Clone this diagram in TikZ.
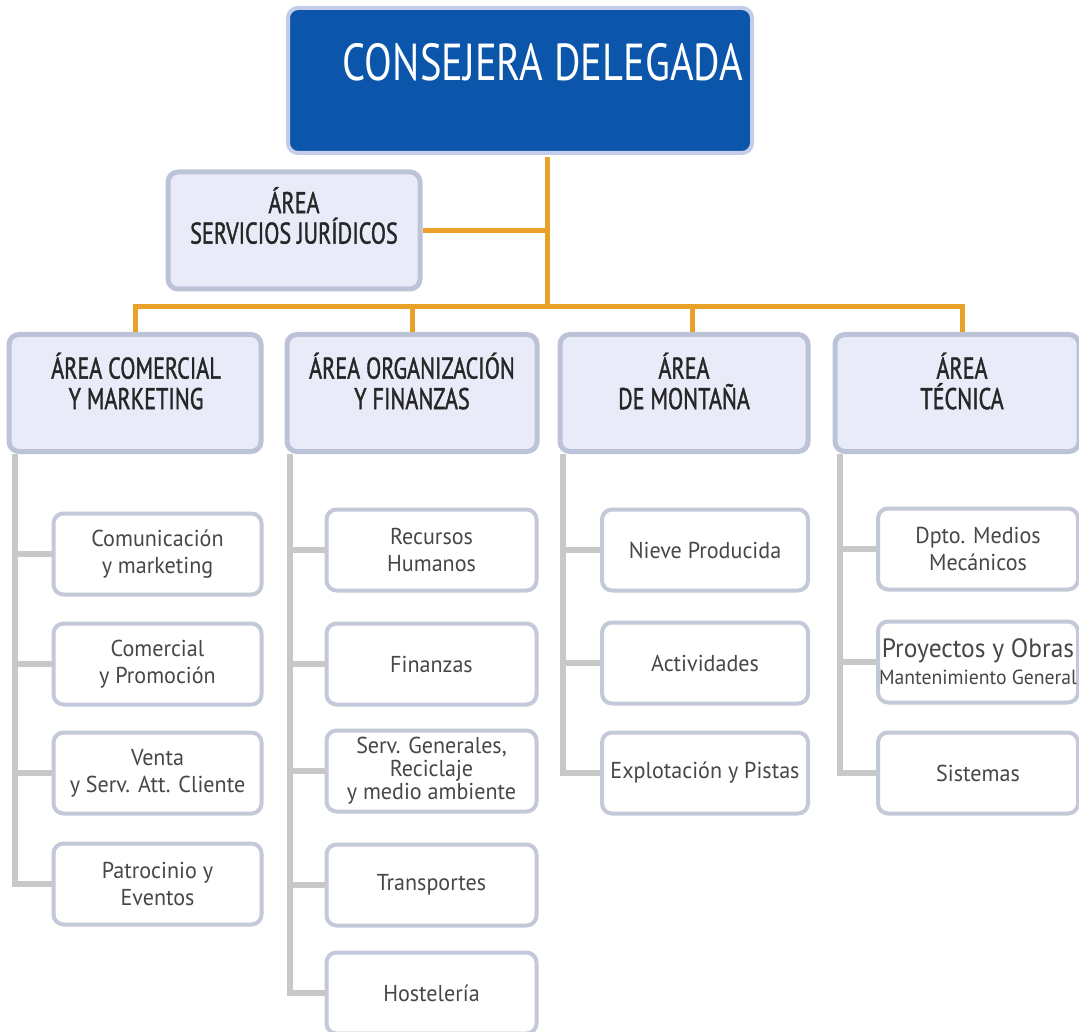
\documentclass[tikz,border=0pt]{standalone}
\usepackage{fontspec}
\setmainfont{PT Sans}
\newfontfamily\topfont[FakeStretch=0.78]{PT Sans}
\newfontfamily\areafont[FakeStretch=0.74,FakeBold=1.2]{PT Sans}
\newfontfamily\subfont[FakeStretch=0.96]{PT Sans}
\usetikzlibrary{calc}
\definecolor{topfill}{HTML}{0B56AA}
\definecolor{topedge}{HTML}{C3CCE8}
\definecolor{areafill}{HTML}{E9ECF8}
\definecolor{areaedge}{HTML}{BCC3D8}
\definecolor{subedge}{HTML}{C4C9DA}
\definecolor{orgline}{HTML}{E9A12A}
\definecolor{trunkline}{HTML}{C8C8C8}
\definecolor{areatxt}{HTML}{262626}
\definecolor{subtxt}{HTML}{474747}
\begin{document}
\begin{tikzpicture}[x=1pt,y=-1pt,
  topbox/.style={draw=topedge, line width=4pt, fill=topfill, rounded corners=10pt,
    minimum width=464pt, minimum height=145pt, inner sep=0pt},
  toptext/.style={text=white, font=\topfont\fontsize{52}{56}\selectfont, inner sep=0pt},
  areabox/.style={draw=areaedge, line width=5pt, fill=areafill, rounded corners=10pt,
    minimum width=250pt, minimum height=117pt, inner sep=0pt},
  areatext/.style={text=areatxt, align=center, inner sep=0pt,
    font=\areafont\fontsize{30}{30.5}\selectfont},
  subbox/.style={draw=subedge, line width=4pt, fill=white, rounded corners=10pt,
    minimum width=208pt, minimum height=81pt, align=center, inner sep=0pt,
    text=subtxt, font=\subfont\fontsize{23}{27}\selectfont},
  orange/.style={draw=orgline, line width=5pt},
  trunk/.style={draw=trunkline, line width=6pt}
]
\useasboundingbox (0,0) rectangle (1079,1032);
\fill[white] (0,0) rectangle (1079,1032);

% top
\node[topbox] (ceo) at (520,80.5) {};
\node[toptext] (ceot) at ($(ceo.center)+(23,-18)$) {CONSEJERA DELEGADA};

% juridicos
\node[areabox, minimum width=252pt] (jur) at (294,230.5) {};
\node[areatext] (jurt) at ($(jur.center)+(0,-15)$) {ÁREA\\SERVICIOS JURÍDICOS};

% areas
\node[areabox, minimum width=252pt] (com) at (135,393) {};
\node[areatext] (comt) at ($(com.center)+(1,-12)$) {ÁREA COMERCIAL\\Y MARKETING};
\node[areabox] (org) at (412,393) {};
\node[areatext] (orgt) at ($(org.center)+(0,-12)$) {ÁREA ORGANIZACIÓN\\Y FINANZAS};
\node[areabox, minimum width=248pt] (mon) at (684,393) {};
\node[areatext] (mont) at ($(mon.center)+(0,-12)$) {ÁREA\\DE MONTAÑA};
\node[areabox, minimum width=244pt] (tec) at (957,393) {};
\node[areatext] (tect) at ($(tec.center)+(5,-12)$) {ÁREA\\TÉCNICA};

% sub boxes: comercial
\node[subbox] (c1) at (157.5,554) {Comunicación\\y marketing};
\node[subbox] (c2) at (157.5,664) {Comercial\\y Promoción};
\node[subbox] (c3) at (157.5,773) {Venta\\y Serv. Att. Cliente};
\node[subbox] (c4) at (157.5,884) {Patrocinio y\\Eventos};
% organizacion
\node[subbox, minimum width=210pt] (o1) at (431.5,550) {Recursos\\Humanos};
\node[subbox, minimum width=210pt] (o2) at (431.5,664) {Finanzas};
\node[subbox, minimum width=210pt, font=\subfont\fontsize{23}{23}\selectfont] (o3) at (431.5,771) {Serv. Generales,\\Reciclaje\\y medio ambiente};
\node[subbox, minimum width=210pt] (o4) at (431.5,885) {Transportes};
\node[subbox, minimum width=210pt] (o5) at (431.5,993) {Hostelería};
% montana
\node[subbox, minimum width=206pt] (m1) at (705,550) {Nieve Producida};
\node[subbox, minimum width=206pt] (m2) at (705,663) {Actividades};
\node[subbox, minimum width=206pt] (m3) at (705,773) {Explotación y Pistas};
% tecnica
\node[subbox, minimum width=200pt] (t1) at (978,549) {Dpto. Medios\\Mecánicos};
\node[subbox, minimum width=200pt] (t2) at (978,662) {{\fontsize{26.5}{27}\selectfont Proyectos y Obras}\\{\fontsize{20.5}{22}\selectfont Mantenimiento General}};
\node[subbox, minimum width=200pt] (t3) at (978,773) {Sistemas};

% orange connectors
\coordinate (busC) at (547,307);
\coordinate (tecd) at ($(tec.north)+(5,0)$);
\coordinate (mond) at ($(mon.north)+(8,0)$);
\draw[orange] ($(ceo.south)+(27,2)$) -- (busC);
\draw[orange] (jur.east) -- (jur.east -| busC);
\draw[orange, line join=miter] (com.north) -- (com.north |- busC) -- (tecd |- busC) -- (tecd);
\draw[orange] (org.north) -- (org.north |- busC);
\draw[orange] (mond) -- (mond |- busC);

% gray trunks
\coordinate (comtr) at ($(com.south west)+(8,0)$);
\coordinate (orgtr) at ($(org.south west)+(5,0)$);
\coordinate (montr) at ($(mon.south west)+(5,0)$);
\coordinate (tectr) at ($(tec.south west)+(7,0)$);
\draw[trunk] (comtr) |- (c4.west);
\foreach \n in {c1,c2,c3} \draw[trunk] (\n.west) -- (\n.west -| comtr);
\draw[trunk] (orgtr) |- (o5.west);
\foreach \n in {o1,o2,o3,o4} \draw[trunk] (\n.west) -- (\n.west -| orgtr);
\draw[trunk] (montr) |- (m3.west);
\foreach \n in {m1,m2} \draw[trunk] (\n.west) -- (\n.west -| montr);
\draw[trunk] (tectr) |- (t3.west);
\foreach \n in {t1,t2} \draw[trunk] (\n.west) -- (\n.west -| tectr);
\end{tikzpicture}
\end{document}
